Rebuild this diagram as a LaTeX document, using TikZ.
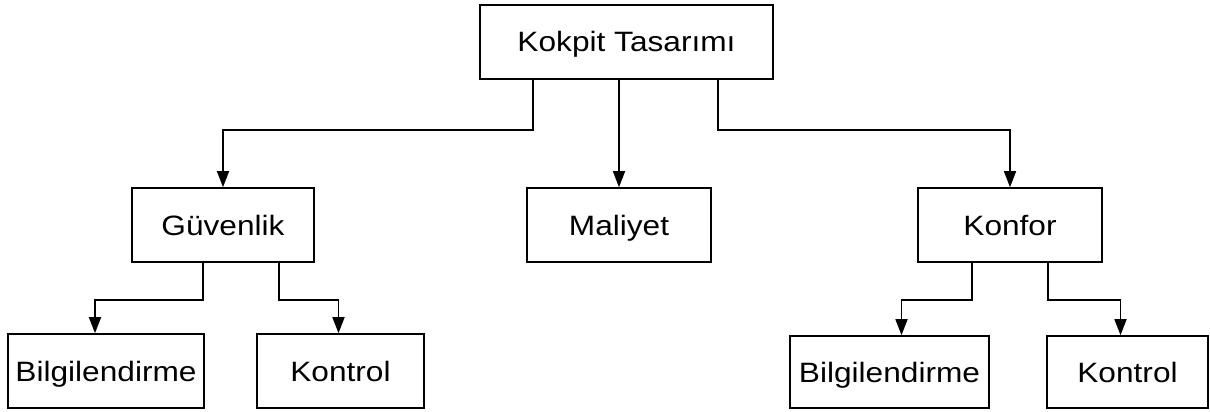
\documentclass[tikz,border=0pt]{standalone}
\usepackage{fontspec}
\setmainfont{Liberation Sans}[FakeStretch=1.13]
\usetikzlibrary{arrows.meta}
\begin{document}
\begin{tikzpicture}[x=1pt,y=-1pt,
  box/.style={draw, line width=1.6pt, inner sep=0pt, minimum height=74pt,
    text height=20pt, text depth=0pt,
    font=\fontsize{28}{32}\selectfont},
  link/.style={line width=1.6pt},
  arr/.style={link, -{Triangle[length=16pt,width=12pt]}}]
\useasboundingbox (0,0) rectangle (1210,412);
\fill[white] (0,0) rectangle (1210,412);

% tree of boxes
\node[box, minimum width=293pt] (top)  at (626.5,42)  {Kokpit Tasarımı};
\node[box, minimum width=182pt] (guv)  at (223,225)   {Güvenlik};
\node[box, minimum width=184pt] (mal)  at (619,225)   {Maliyet};
\node[box, minimum width=184pt] (konf) at (1010,225)  {Konfor};
\node[box, minimum width=196pt] (bilA) at (106,371)   {Bilgilendirme};
\node[box, minimum width=167pt] (konA) at (340.5,371) {Kontrol};
\node[box, minimum width=199pt, minimum height=72pt] (bilB) at (889.5,372) {Bilgilendirme};
\node[box, minimum width=161pt, minimum height=72pt] (konB) at (1127.5,372) {Kontrol};

% first level
\draw[arr] ([xshift=54pt]top.south west) -- ++(0,50) -| (guv.north);
\draw[arr] (top.south -| mal.north) -- (mal.north);
\draw[arr] ([xshift=-56pt]top.south east) -- ++(0,50) -| (konf.north);

% second level
\draw[arr] ([xshift=72pt]guv.south west) -- ++(0,37) -| ([xshift=-11pt]bilA.north);
\draw[arr] ([xshift=-36pt]guv.south east) -- ++(0,37) -| ([xshift=-2pt]konA.north);
\draw[arr] ([xshift=55pt]konf.south west) -- ++(0,37) -| ([xshift=12pt]bilB.north);
\draw[arr] ([xshift=-55pt]konf.south east) -- ++(0,37) -| ([xshift=-7pt]konB.north);
\end{tikzpicture}
\end{document}
